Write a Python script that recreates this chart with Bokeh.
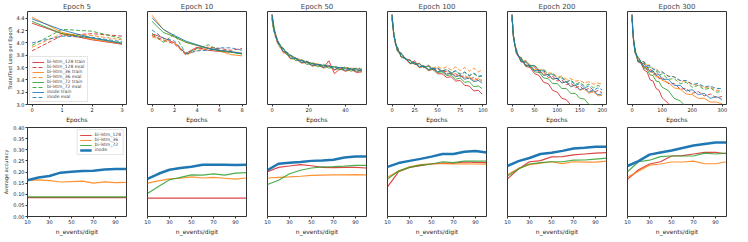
from bokeh.plotting import figure
from bokeh.layouts import gridplot
from bokeh.models import Range1d, FixedTicker, NumeralTickFormatter
from bokeh.embed import file_html
from bokeh.resources import INLINE

# ---------------- data: loss curves (top row) ----------------
TITLES = ["Epoch 5", "Epoch 10", "Epoch 50", "Epoch 100", "Epoch 200", "Epoch 300"]
SERIES = ["bi-lstm_128", "bi-lstm_36", "bi-lstm_72", "inode"]

E5_x = [0, 1, 2, 3]
E5_l128_tr = [4.32, 4.15, 4.05, 3.98]
E5_l128_ev = [3.87, 4.12, 4.15, 4.11]
E5_l36_tr = [4.42, 4.17, 4.06, 3.98]
E5_l36_ev = [3.93, 4.15, 4.12, 4.05]
E5_l72_tr = [4.35, 4.15, 4.08, 4.00]
E5_l72_ev = [3.96, 4.22, 4.19, 4.07]
E5_in_tr = [4.39, 4.21, 4.08, 3.99]
E5_in_ev = [4.00, 4.11, 4.09, 4.02]

E10_x = [0, 1, 2, 3, 4, 5, 6, 7, 8]
E10_l128_tr = [4.15, 4.08, 4.00, 3.83, 3.93, 3.88, 3.86, 3.85, 3.83]
E10_l128_ev = [4.12, 4.05, 3.98, 3.81, 3.91, 3.93, 3.91, 3.88, 3.91]
E10_l36_tr = [4.45, 4.22, 4.10, 4.01, 3.96, 3.92, 3.87, 3.81, 3.79]
E10_l36_ev = [4.10, 4.03, 4.01, 3.80, 3.88, 3.91, 3.88, 3.86, 3.83]
E10_l72_tr = [4.35, 4.17, 4.10, 4.01, 3.96, 3.91, 3.87, 3.85, 3.82]
E10_l72_ev = [4.15, 4.01, 4.14, 3.83, 3.91, 3.97, 3.88, 3.86, 3.82]
E10_in_tr = [4.41, 4.22, 4.12, 4.03, 3.97, 3.91, 3.88, 3.86, 3.83]
E10_in_ev = [4.21, 4.08, 4.03, 3.82, 3.87, 3.88, 3.92, 3.92, 3.88]

E50_x = [0, 1, 2, 3, 4, 6, 8, 10, 13, 16, 19, 22, 25, 28, 31, 34, 37, 40, 43, 46, 49]
E50_l128_tr = [4.45, 4.22, 4.12, 4.00, 3.98, 3.86, 3.84, 3.75, 3.75, 3.68, 3.69, 3.63, 3.65, 3.60, 3.71, 3.50, 3.58, 3.54, 3.57, 3.52, 3.53]
E50_l128_ev = [4.40, 4.22, 4.13, 4.05, 3.98, 3.91, 3.84, 3.80, 3.75, 3.72, 3.70, 3.66, 3.65, 3.63, 3.64, 3.56, 3.60, 3.58, 3.57, 3.56, 3.55]
E50_l36_tr = [4.47, 4.25, 4.14, 3.98, 3.97, 3.84, 3.82, 3.74, 3.74, 3.67, 3.68, 3.62, 3.64, 3.59, 3.62, 3.56, 3.59, 3.54, 3.57, 3.53, 3.55]
E50_l36_ev = [4.42, 4.20, 4.08, 4.03, 3.93, 3.90, 3.83, 3.79, 3.76, 3.70, 3.69, 3.67, 3.66, 3.62, 3.63, 3.61, 3.60, 3.60, 3.59, 3.58, 3.60]
E50_l72_tr = [4.46, 4.28, 4.09, 4.04, 3.95, 3.91, 3.81, 3.79, 3.71, 3.72, 3.65, 3.67, 3.61, 3.64, 3.59, 3.61, 3.56, 3.59, 3.54, 3.57, 3.54]
E50_l72_ev = [4.38, 4.18, 4.14, 4.04, 3.99, 3.92, 3.85, 3.81, 3.74, 3.73, 3.68, 3.68, 3.64, 3.65, 3.61, 3.62, 3.59, 3.61, 3.58, 3.59, 3.57]
E50_in_tr = [4.46, 4.23, 4.13, 4.01, 3.98, 3.86, 3.84, 3.75, 3.75, 3.68, 3.69, 3.63, 3.65, 3.60, 3.63, 3.57, 3.60, 3.55, 3.58, 3.54, 3.56]
E50_in_ev = [4.41, 4.21, 4.10, 4.05, 3.97, 3.90, 3.85, 3.80, 3.75, 3.71, 3.70, 3.66, 3.65, 3.64, 3.62, 3.61, 3.60, 3.59, 3.58, 3.58, 3.57]

E100_x = [0, 2, 4, 6, 8, 10, 15, 20, 25, 30, 35, 40, 45, 50, 55, 60, 65, 70, 75, 80, 85, 90, 95, 99]
E100_l128_tr = [4.45, 4.12, 3.99, 3.87, 3.85, 3.77, 3.74, 3.66, 3.71, 3.60, 3.62, 3.55, 3.57, 3.50, 3.50, 3.44, 3.45, 3.38, 3.39, 3.31, 3.30, 3.22, 3.23, 3.17]
E100_l128_ev = [4.40, 4.14, 3.97, 3.93, 3.84, 3.83, 3.73, 3.72, 3.65, 3.67, 3.60, 3.63, 3.56, 3.58, 3.53, 3.54, 3.49, 3.50, 3.45, 3.47, 3.41, 3.44, 3.39, 3.40]
E100_l36_tr = [4.47, 4.14, 4.00, 3.86, 3.85, 3.77, 3.75, 3.66, 3.67, 3.60, 3.62, 3.56, 3.59, 3.53, 3.55, 3.50, 3.52, 3.46, 3.48, 3.43, 3.45, 3.39, 3.42, 3.38]
E100_l36_ev = [4.42, 4.12, 3.98, 3.94, 3.83, 3.84, 3.74, 3.73, 3.66, 3.67, 3.61, 3.64, 3.59, 3.62, 3.58, 3.61, 3.56, 3.61, 3.55, 3.60, 3.54, 3.59, 3.53, 3.56]
E100_l72_tr = [4.46, 4.13, 3.99, 3.87, 3.86, 3.78, 3.75, 3.67, 3.68, 3.61, 3.63, 3.56, 3.58, 3.52, 3.53, 3.47, 3.48, 3.41, 3.43, 3.36, 3.37, 3.29, 3.30, 3.26]
E100_l72_ev = [4.38, 4.15, 3.99, 3.92, 3.84, 3.83, 3.74, 3.71, 3.65, 3.66, 3.61, 3.62, 3.58, 3.59, 3.54, 3.57, 3.51, 3.54, 3.49, 3.52, 3.47, 3.50, 3.45, 3.46]
E100_in_tr = [4.46, 4.13, 4.00, 3.88, 3.86, 3.78, 3.75, 3.67, 3.68, 3.61, 3.63, 3.57, 3.59, 3.53, 3.55, 3.49, 3.51, 3.45, 3.47, 3.41, 3.43, 3.37, 3.39, 3.35]
E100_in_ev = [4.41, 4.14, 3.97, 3.93, 3.83, 3.84, 3.73, 3.72, 3.66, 3.66, 3.60, 3.63, 3.57, 3.60, 3.54, 3.57, 3.52, 3.55, 3.49, 3.53, 3.47, 3.51, 3.46, 3.47]

E200_x = [0, 3, 6, 10, 15, 20, 25, 30, 40, 50, 60, 70, 80, 90, 100, 110, 120, 130, 140, 150, 160, 170, 180, 190, 199]
E200_l128_tr = [4.45, 4.10, 3.98, 3.82, 3.78, 3.69, 3.69, 3.62, 3.60, 3.50, 3.47, 3.36, 3.34, 3.23, 3.20, 3.10, 3.08, 2.99, 2.95, 2.90, 2.85, 2.80, 2.76, 2.72, 2.68]
E200_l128_ev = [4.40, 4.12, 3.96, 3.88, 3.76, 3.75, 3.68, 3.69, 3.61, 3.61, 3.52, 3.53, 3.44, 3.46, 3.38, 3.40, 3.32, 3.35, 3.27, 3.30, 3.23, 3.26, 3.19, 3.23, 3.19]
E200_l36_tr = [4.47, 4.12, 3.99, 3.83, 3.79, 3.70, 3.71, 3.64, 3.64, 3.56, 3.57, 3.48, 3.49, 3.41, 3.43, 3.35, 3.37, 3.29, 3.31, 3.23, 3.26, 3.18, 3.21, 3.14, 3.15]
E200_l36_ev = [4.42, 4.13, 3.98, 3.89, 3.77, 3.77, 3.70, 3.72, 3.64, 3.63, 3.56, 3.57, 3.51, 3.51, 3.45, 3.46, 3.41, 3.42, 3.38, 3.39, 3.35, 3.37, 3.33, 3.35, 3.33]
E200_l72_tr = [4.46, 4.11, 3.99, 3.83, 3.79, 3.70, 3.70, 3.63, 3.62, 3.53, 3.52, 3.43, 3.42, 3.34, 3.34, 3.26, 3.26, 3.18, 3.18, 3.10, 3.09, 3.00, 3.00, 2.92, 2.90]
E200_l72_ev = [4.38, 4.13, 3.97, 3.89, 3.77, 3.76, 3.69, 3.71, 3.63, 3.64, 3.55, 3.57, 3.48, 3.51, 3.42, 3.45, 3.37, 3.40, 3.33, 3.36, 3.30, 3.33, 3.27, 3.31, 3.28]
E200_in_tr = [4.46, 4.11, 3.99, 3.83, 3.79, 3.70, 3.70, 3.64, 3.63, 3.55, 3.56, 3.47, 3.49, 3.41, 3.43, 3.35, 3.37, 3.29, 3.32, 3.24, 3.27, 3.20, 3.23, 3.16, 3.17]
E200_in_ev = [4.41, 4.14, 3.97, 3.88, 3.76, 3.76, 3.68, 3.70, 3.62, 3.63, 3.54, 3.55, 3.47, 3.49, 3.41, 3.43, 3.36, 3.38, 3.31, 3.34, 3.27, 3.30, 3.23, 3.27, 3.24]

E300_x = [0, 3, 6, 10, 15, 20, 30, 40, 50, 60, 70, 80, 90, 100, 120, 140, 160, 180, 200, 220, 240, 260, 280, 299]
E300_l128_tr = [4.45, 4.16, 4.01, 3.84, 3.79, 3.69, 3.67, 3.56, 3.53, 3.40, 3.38, 3.26, 3.23, 3.11, 3.02, 2.90, 2.80, 2.72, 2.65, 2.60, 2.55, 2.50, 2.46, 2.42]
E300_l128_ev = [4.40, 4.17, 4.00, 3.91, 3.78, 3.77, 3.67, 3.66, 3.57, 3.58, 3.49, 3.50, 3.42, 3.44, 3.34, 3.34, 3.25, 3.26, 3.18, 3.21, 3.14, 3.17, 3.11, 3.13]
E300_l36_tr = [4.47, 4.18, 4.03, 3.85, 3.80, 3.71, 3.69, 3.61, 3.60, 3.53, 3.52, 3.45, 3.45, 3.39, 3.36, 3.27, 3.25, 3.17, 3.16, 3.10, 3.10, 3.04, 3.04, 3.01]
E300_l36_ev = [4.42, 4.18, 4.01, 3.92, 3.79, 3.78, 3.69, 3.70, 3.64, 3.64, 3.58, 3.58, 3.53, 3.53, 3.46, 3.45, 3.38, 3.38, 3.32, 3.32, 3.27, 3.28, 3.23, 3.23]
E300_l72_tr = [4.46, 4.17, 4.02, 3.85, 3.80, 3.70, 3.68, 3.59, 3.57, 3.48, 3.47, 3.38, 3.37, 3.28, 3.23, 3.10, 3.06, 2.96, 2.90, 2.85, 2.80, 2.76, 2.72, 2.68]
E300_l72_ev = [4.38, 4.16, 4.00, 3.91, 3.79, 3.78, 3.68, 3.68, 3.60, 3.61, 3.53, 3.55, 3.47, 3.50, 3.41, 3.42, 3.34, 3.36, 3.28, 3.31, 3.24, 3.27, 3.20, 3.21]
E300_in_tr = [4.46, 4.17, 4.02, 3.86, 3.81, 3.71, 3.69, 3.61, 3.62, 3.53, 3.55, 3.47, 3.49, 3.41, 3.41, 3.31, 3.31, 3.22, 3.24, 3.16, 3.18, 3.10, 3.13, 3.08]
E300_in_ev = [4.41, 4.17, 4.00, 3.92, 3.79, 3.78, 3.69, 3.69, 3.63, 3.63, 3.57, 3.57, 3.52, 3.53, 3.46, 3.45, 3.39, 3.39, 3.33, 3.34, 3.29, 3.30, 3.26, 3.26]

# ---------------- data: accuracy (bottom row) ----------------
N_EVENTS = [10, 20, 30, 40, 50, 60, 70, 80, 90, 100]

A5_l128 = [0.085, 0.085, 0.085, 0.085, 0.085, 0.085, 0.085, 0.085, 0.085, 0.085]
A5_l36 = [0.162, 0.165, 0.161, 0.155, 0.157, 0.159, 0.150, 0.156, 0.152, 0.153]
A5_l72 = [0.088, 0.088, 0.088, 0.088, 0.088, 0.088, 0.088, 0.088, 0.088, 0.088]
A5_in = [0.163, 0.175, 0.182, 0.197, 0.201, 0.205, 0.206, 0.211, 0.214, 0.214]

A10_l128 = [0.083, 0.083, 0.083, 0.083, 0.083, 0.083, 0.083, 0.083, 0.083, 0.083]
A10_l36 = [0.150, 0.160, 0.169, 0.172, 0.178, 0.173, 0.176, 0.172, 0.168, 0.173]
A10_l72 = [0.103, 0.135, 0.165, 0.176, 0.187, 0.186, 0.192, 0.186, 0.195, 0.197]
A10_in = [0.169, 0.192, 0.210, 0.218, 0.224, 0.233, 0.233, 0.233, 0.232, 0.233]

A50_l128 = [0.201, 0.221, 0.227, 0.233, 0.228, 0.221, 0.220, 0.221, 0.221, 0.218]
A50_l36 = [0.173, 0.176, 0.178, 0.181, 0.185, 0.186, 0.187, 0.187, 0.188, 0.187]
A50_l72 = [0.144, 0.163, 0.192, 0.208, 0.218, 0.223, 0.224, 0.226, 0.230, 0.230]
A50_in = [0.208, 0.237, 0.242, 0.245, 0.250, 0.252, 0.255, 0.265, 0.270, 0.270]

A100_l128 = [0.133, 0.201, 0.221, 0.229, 0.236, 0.240, 0.240, 0.245, 0.243, 0.242]
A100_l36 = [0.176, 0.204, 0.223, 0.233, 0.237, 0.237, 0.236, 0.237, 0.236, 0.235]
A100_l72 = [0.169, 0.204, 0.221, 0.231, 0.236, 0.246, 0.242, 0.249, 0.249, 0.249]
A100_in = [0.223, 0.240, 0.250, 0.259, 0.269, 0.281, 0.281, 0.291, 0.294, 0.288]

A200_l128 = [0.169, 0.214, 0.246, 0.251, 0.268, 0.269, 0.277, 0.281, 0.285, 0.287]
A200_l36 = [0.188, 0.216, 0.233, 0.240, 0.246, 0.238, 0.246, 0.244, 0.244, 0.249]
A200_l72 = [0.182, 0.214, 0.236, 0.242, 0.246, 0.246, 0.253, 0.254, 0.258, 0.262]
A200_in = [0.227, 0.249, 0.263, 0.281, 0.287, 0.295, 0.306, 0.309, 0.313, 0.314]

A300_l128 = [0.167, 0.210, 0.236, 0.246, 0.272, 0.274, 0.281, 0.288, 0.288, 0.282]
A300_l36 = [0.176, 0.204, 0.231, 0.236, 0.245, 0.245, 0.249, 0.237, 0.237, 0.246]
A300_l72 = [0.201, 0.246, 0.253, 0.269, 0.272, 0.272, 0.272, 0.285, 0.281, 0.285]
A300_in = [0.227, 0.249, 0.278, 0.288, 0.297, 0.308, 0.319, 0.326, 0.333, 0.333]

TOP_XTICKS = [[0, 1, 2, 3], [0, 2, 4, 6, 8], [0, 20, 40], [0, 25, 50, 75, 100], [0, 50, 100, 150, 200], [0, 100, 200, 300]]
LOSS_TICKS = [3.0, 3.2, 3.4, 3.6, 3.8, 4.0, 4.2, 4.4]
ACC_TICKS = [0.00, 0.05, 0.10, 0.15, 0.20, 0.25, 0.30, 0.35, 0.40]
ACC_XTICKS = [10, 30, 50, 70, 90]

# ---------------- assembly ----------------
COLORS = ["#d62728", "#ff7f0e", "#2ca02c", "#1f77b4"]
FONT = "DejaVu Sans"
FW, FH_TOP, FH_BOT = 99, 93, 89

top_data = [
    (E5_x, [E5_l128_tr, E5_l128_ev, E5_l36_tr, E5_l36_ev, E5_l72_tr, E5_l72_ev, E5_in_tr, E5_in_ev]),
    (E10_x, [E10_l128_tr, E10_l128_ev, E10_l36_tr, E10_l36_ev, E10_l72_tr, E10_l72_ev, E10_in_tr, E10_in_ev]),
    (E50_x, [E50_l128_tr, E50_l128_ev, E50_l36_tr, E50_l36_ev, E50_l72_tr, E50_l72_ev, E50_in_tr, E50_in_ev]),
    (E100_x, [E100_l128_tr, E100_l128_ev, E100_l36_tr, E100_l36_ev, E100_l72_tr, E100_l72_ev, E100_in_tr, E100_in_ev]),
    (E200_x, [E200_l128_tr, E200_l128_ev, E200_l36_tr, E200_l36_ev, E200_l72_tr, E200_l72_ev, E200_in_tr, E200_in_ev]),
    (E300_x, [E300_l128_tr, E300_l128_ev, E300_l36_tr, E300_l36_ev, E300_l72_tr, E300_l72_ev, E300_in_tr, E300_in_ev]),
]
bot_data = [
    [A5_l128, A5_l36, A5_l72, A5_in],
    [A10_l128, A10_l36, A10_l72, A10_in],
    [A50_l128, A50_l36, A50_l72, A50_in],
    [A100_l128, A100_l36, A100_l72, A100_in],
    [A200_l128, A200_l36, A200_l72, A200_in],
    [A300_l128, A300_l36, A300_l72, A300_in],
]


def style(p, first):
    p.outline_line_color = "#333333"
    p.outline_line_width = 1
    p.grid.visible = False
    for ax in (p.xaxis[0], p.yaxis[0]):
        ax.axis_line_color = None
        ax.major_tick_out = 2
        ax.major_tick_in = 0
        ax.minor_tick_line_color = None
        ax.major_tick_line_color = "#333333"
        ax.major_label_text_font = FONT
        ax.major_label_text_font_size = "5px"
        ax.major_label_text_color = "#222222"
        ax.major_label_standoff = 1
        ax.axis_label_text_font = FONT
        ax.axis_label_text_font_size = "6px"
        ax.axis_label_text_font_style = "normal"
        ax.axis_label_text_color = "#222222"
        ax.axis_label_standoff = 1
    if not first:
        p.yaxis.visible = False


def style_legend(p, loc):
    lg = p.legend[0]
    lg.location = loc
    lg.label_text_font = FONT
    lg.label_text_font_size = "4.5px"
    lg.label_text_line_height = 1.0
    lg.label_height = 4
    lg.glyph_height = 4
    lg.glyph_width = 12
    lg.label_standoff = 3
    lg.spacing = 0
    lg.padding = 2
    lg.margin = 2
    lg.border_line_color = "#cccccc"
    lg.border_line_width = 0.5
    lg.background_fill_alpha = 0.85


top_row, bot_row = [], []
for i in range(6):
    first = i == 0
    xs, ys = top_data[i]
    span = xs[-1] - xs[0]
    p = figure(frame_width=FW, frame_height=FH_TOP, output_backend="svg", toolbar_location=None,
               x_range=Range1d(xs[0] - 0.05 * span, xs[-1] + 0.05 * span), y_range=Range1d(3.0, 4.51),
               min_border_left=25 if first else 15, min_border_right=6, min_border_top=10, min_border_bottom=16)
    p.title.text = TITLES[i]
    p.title.align = "center"
    p.title.text_font = FONT
    p.title.text_font_size = "7px"
    p.title.text_font_style = "normal"
    p.title.standoff = 1
    p.title.offset = 0
    for k in range(4):
        for j, kind in enumerate(["train", "eval"]):
            kw = dict(line_color=COLORS[k], line_width=1, line_alpha=0.85,
                      line_dash="solid" if kind == "train" else "4 2")
            if first:
                kw["legend_label"] = f"{SERIES[k]} {kind}"
            p.line(xs, ys[2 * k + j], **kw)
    style(p, first)
    p.xaxis.ticker = FixedTicker(ticks=TOP_XTICKS[i])
    p.yaxis.ticker = FixedTicker(ticks=LOSS_TICKS)
    p.yaxis.formatter = NumeralTickFormatter(format="0.0")
    p.xaxis.axis_label = "Epochs"
    if first:
        p.yaxis.axis_label = "Train/Test Loss per Epoch"
        p.yaxis.axis_label_text_font_size = "5px"
        style_legend(p, "bottom_left")
    top_row.append(p)

    q = figure(frame_width=FW, frame_height=FH_BOT, output_backend="svg", toolbar_location=None,
               x_range=Range1d(10, 100), y_range=Range1d(0, 0.4),
               min_border_left=25 if first else 15, min_border_right=6, min_border_top=2, min_border_bottom=16)
    for k in range(4):
        kw = dict(line_color=COLORS[k], line_width=2.5 if k == 3 else 1.2, line_alpha=1.0 if k == 3 else 0.85)
        if first:
            kw["legend_label"] = SERIES[k]
        q.line(N_EVENTS, bot_data[i][k], **kw)
    style(q, first)
    q.xaxis.ticker = FixedTicker(ticks=ACC_XTICKS)
    q.yaxis.ticker = FixedTicker(ticks=ACC_TICKS)
    q.yaxis.formatter = NumeralTickFormatter(format="0.00")
    q.xaxis.axis_label = "n_events/digit"
    if first:
        q.yaxis.axis_label = "Average accuracy"
        q.yaxis.axis_label_text_font_size = "5px"
        style_legend(q, "top_right")
    bot_row.append(q)

grid = gridplot([top_row, bot_row], toolbar_location=None)

open("out.html", "w").write(file_html(grid, INLINE))
